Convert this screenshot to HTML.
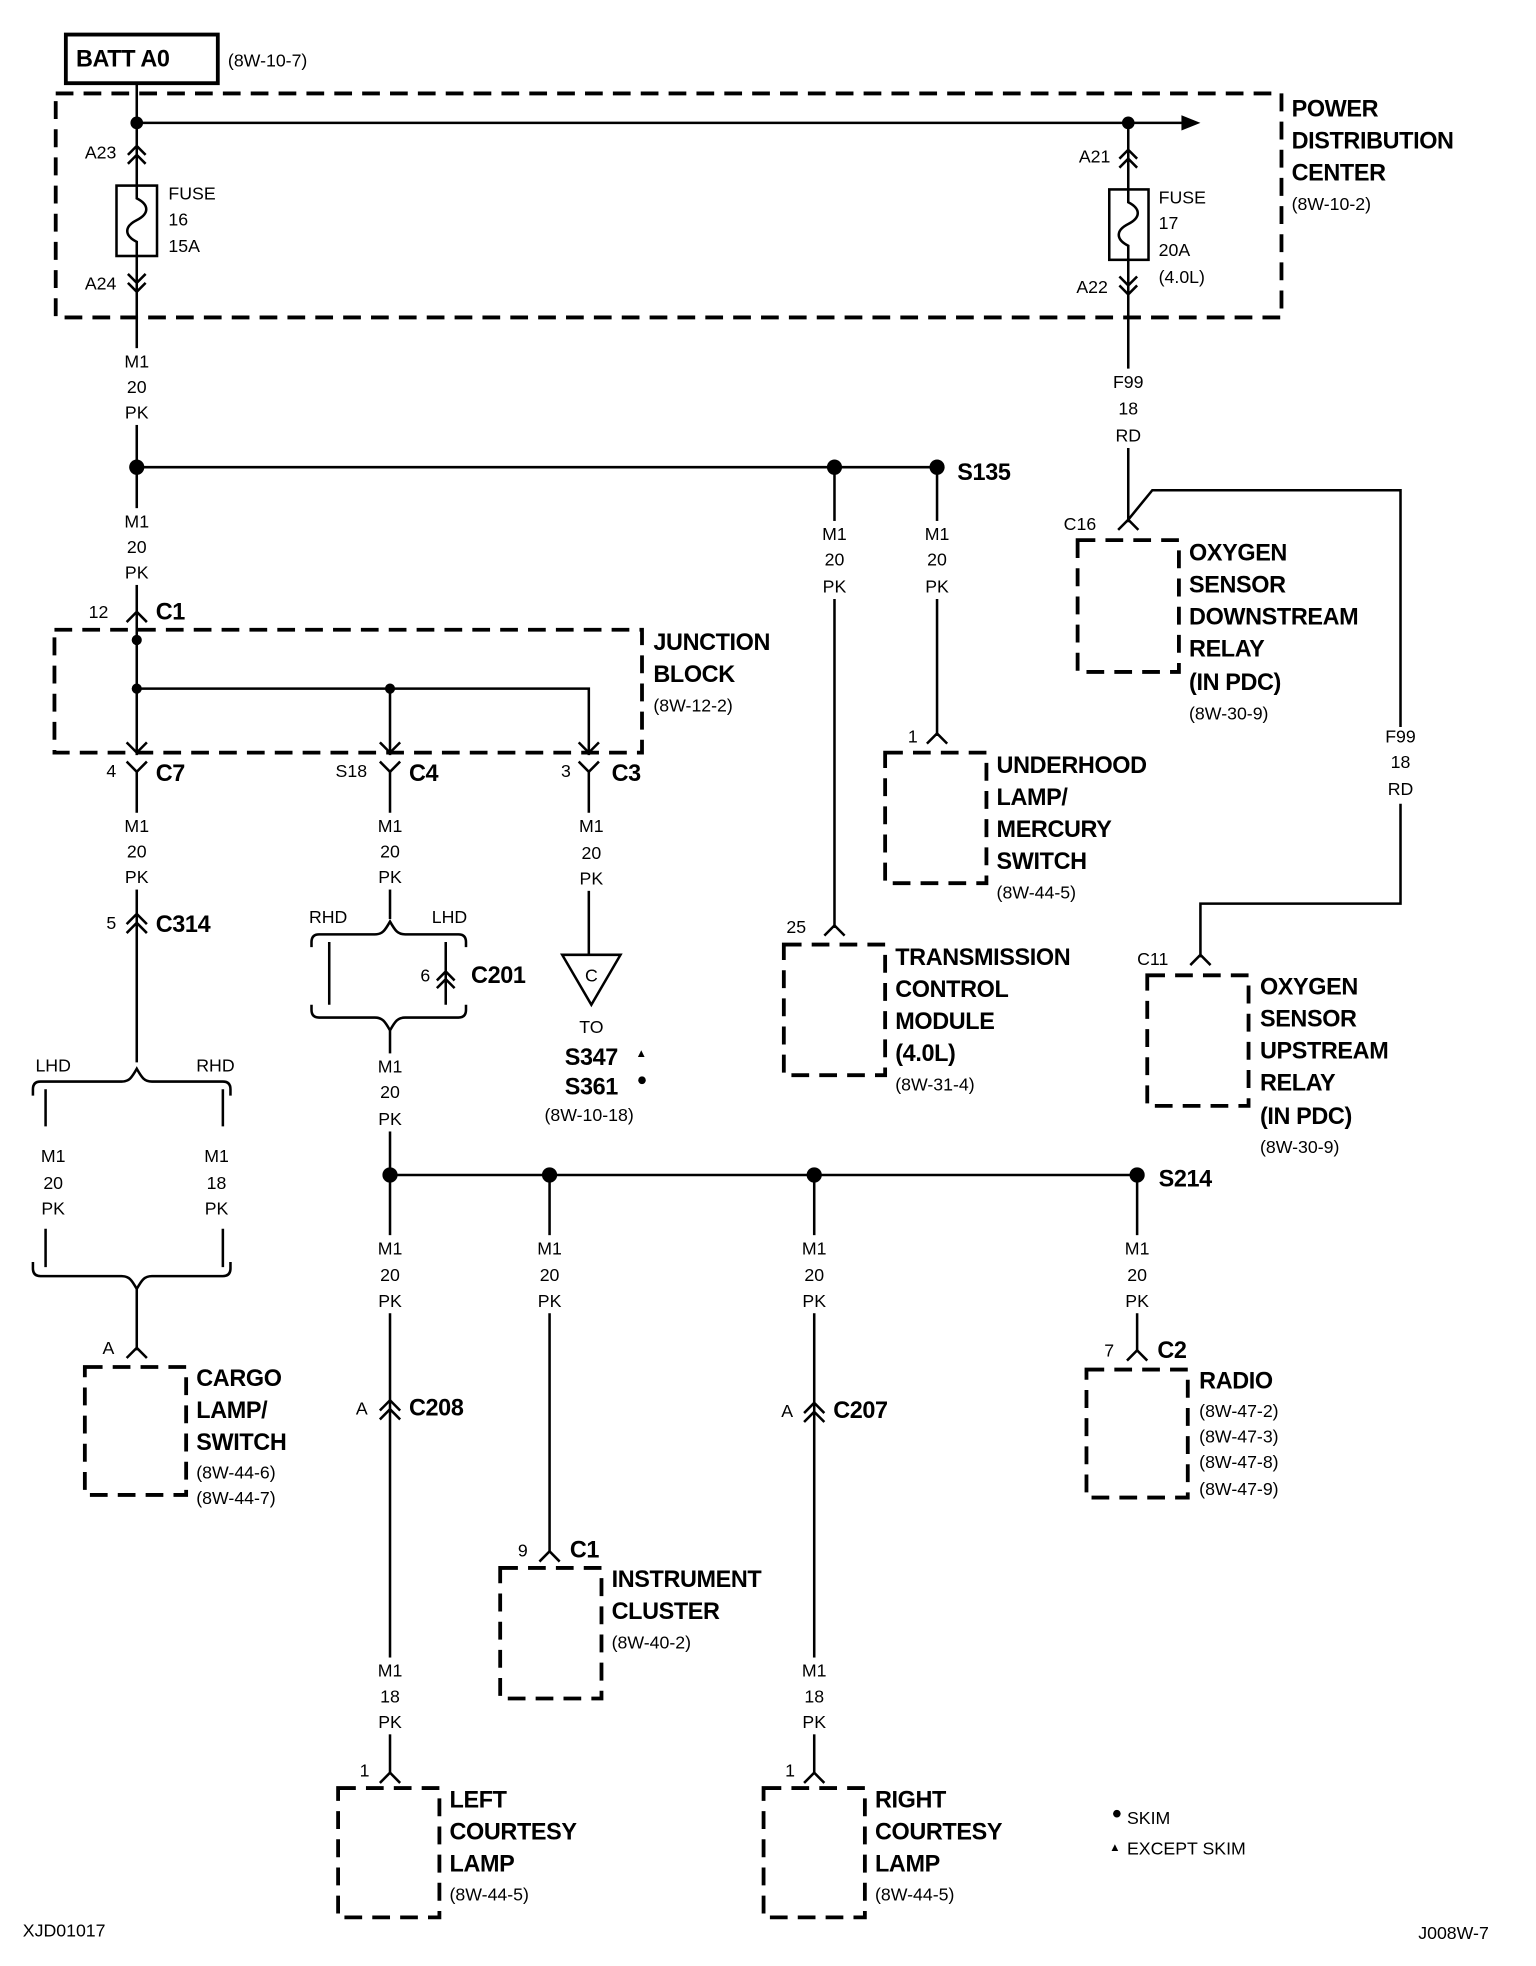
<!DOCTYPE html>
<html><head><meta charset="utf-8"><style>
html,body{margin:0;padding:0;background:#fff}
svg{display:block}
.b{font-family:"Liberation Sans",sans-serif;font-weight:bold;font-size:18.5px;letter-spacing:-0.3px;fill:#000}
.s{font-family:"Liberation Sans",sans-serif;font-size:14px;fill:#000}
.c{text-anchor:middle}
.d{fill:none;stroke:#000;stroke-width:3;stroke-dasharray:14,8}
.l{fill:none;stroke:#000;stroke-width:2}
.w{fill:#fff}
</style></head><body>
<svg width="1536" height="1966" viewBox="0 0 1213 1536" preserveAspectRatio="none" xmlns="http://www.w3.org/2000/svg">
<rect x="52" y="27" width="120" height="38" fill="none" stroke="#000" stroke-width="3"/>
<text class="b" x="60" y="52">BATT A0</text>
<text class="s" x="180" y="52">(8W-10-7)</text>
<rect class="d" x="44" y="73" width="968" height="175"/>
<text class="b" x="1020" y="91">POWER</text>
<text class="b" x="1020" y="116">DISTRIBUTION</text>
<text class="b" x="1020" y="141">CENTER</text>
<text class="s" x="1020" y="164">(8W-10-2)</text>
<path class="l" d="M108 65V478M108 96H935M891 96V408"/>
<polygon points="933,90 948,96 933,102"/>
<circle cx="108" cy="96" r="5"/><circle cx="891" cy="96" r="5"/>
<path class="l" d="M101 121l7-7 7 7M101 128l7-7 7 7M101 214l7 7 7-7M101 221l7 7 7-7"/>
<rect x="92" y="145" width="32" height="55" fill="#fff" stroke="#000" stroke-width="2"/>
<path class="l" d="M108 145v10c10 5 10 12 0 17c-10 5-10 12 0 17v11"/>
<text class="s" x="67" y="124">A23</text><text class="s" x="67" y="226">A24</text>
<text class="s" x="133" y="156">FUSE</text><text class="s" x="133" y="176">16</text><text class="s" x="133" y="197">15A</text>
<path class="l" d="M884 124l7-7 7 7M884 131l7-7 7 7M884 216l7 7 7-7M884 223l7 7 7-7"/>
<rect x="876" y="148" width="31" height="55" fill="#fff" stroke="#000" stroke-width="2"/>
<path class="l" d="M891 148v10c10 5 10 12 0 17c-10 5-10 12 0 17v11"/>
<text class="s" x="852" y="127">A21</text><text class="s" x="850" y="229">A22</text>
<text class="s" x="915" y="159">FUSE</text><text class="s" x="915" y="179">17</text><text class="s" x="915" y="200">20A</text><text class="s" x="915" y="221">(4.0L)</text>
<path class="l" d="M108 365H740M659 365V725M740 365V575"/>
<circle cx="108" cy="365" r="6"/><circle cx="659" cy="365" r="6"/><circle cx="740" cy="365" r="6"/>
<text class="b" x="756" y="375">S135</text>
<path class="l" d="M883 414l8-8 8 8M891 406L910 383H1106V568M1106 628V706H948V748M940 754l8-8 8 8"/>
<text class="s" x="840" y="414">C16</text>
<rect class="d" x="851" y="422" width="80" height="103"/>
<text class="b" x="939" y="438">OXYGEN</text><text class="b" x="939" y="463">SENSOR</text><text class="b" x="939" y="488">DOWNSTREAM</text><text class="b" x="939" y="513">RELAY</text><text class="b" x="939" y="539">(IN PDC)</text>
<text class="s" x="939" y="562">(8W-30-9)</text>
<text class="s" x="898" y="754">C11</text>
<rect class="d" x="906" y="762" width="80" height="102"/>
<text class="b" x="995" y="777">OXYGEN</text><text class="b" x="995" y="802">SENSOR</text><text class="b" x="995" y="827">UPSTREAM</text><text class="b" x="995" y="852">RELAY</text><text class="b" x="995" y="878">(IN PDC)</text>
<text class="s" x="995" y="901">(8W-30-9)</text>
<path class="l" d="M732 581l8-8 8 8"/>
<text class="s" x="717" y="580">1</text>
<rect class="d" x="699" y="588" width="80" height="102"/>
<text class="b" x="787" y="604">UNDERHOOD</text><text class="b" x="787" y="629">LAMP/</text><text class="b" x="787" y="654">MERCURY</text><text class="b" x="787" y="679">SWITCH</text>
<text class="s" x="787" y="702">(8W-44-5)</text>
<path class="l" d="M651 731l8-8 8 8"/>
<text class="s" x="621" y="729">25</text>
<rect class="d" x="619" y="738" width="80" height="102"/>
<text class="b" x="707" y="754">TRANSMISSION</text><text class="b" x="707" y="779">CONTROL</text><text class="b" x="707" y="804">MODULE</text><text class="b" x="707" y="829">(4.0L)</text>
<text class="s" x="707" y="852">(8W-31-4)</text>
<path class="l" d="M100 486l8-8 8 8"/>
<text class="s" x="70" y="483">12</text><text class="b" x="123" y="484">C1</text>
<rect class="d" x="43" y="492" width="464" height="96"/>
<text class="b" x="516" y="508">JUNCTION</text><text class="b" x="516" y="533">BLOCK</text>
<text class="s" x="516" y="556">(8W-12-2)</text>
<path class="l" d="M108 478V590M108 538H465V590M308 538V590"/>
<circle cx="108" cy="500" r="4"/><circle cx="108" cy="538" r="4"/><circle cx="308" cy="538" r="4"/>
<path class="l" d="M100 580l8 8 8-8M100 595l8 8 8-8M300 580l8 8 8-8M300 595l8 8 8-8M457 580l8 8 8-8M457 595l8 8 8-8"/>
<path class="l" d="M108 603V830M308 603V718M465 603V745"/>
<text class="s" x="84" y="607">4</text><text class="b" x="123" y="610">C7</text>
<text class="s" x="265" y="607">S18</text><text class="b" x="323" y="610">C4</text>
<text class="s" x="443" y="607">3</text><text class="b" x="483" y="610">C3</text>
<path class="l" d="M100 722l8-8 8 8M100 729l8-8 8 8"/>
<text class="s" x="84" y="726">5</text><text class="b" x="123" y="728">C314</text>
<text class="s" x="28" y="837">LHD</text><text class="s" x="155" y="837">RHD</text>
<path class="l" d="M26 856v-5c0-4 2-6 6-6h64c6 0 8-3 12-10c4 7 6 10 12 10h56c4 0 6 2 6 6v5M36 851V880M176 851V880M36 960V990M176 960V990"/>
<text class="s c" x="42" y="908">M1</text><text class="s c" x="42" y="929">20</text><text class="s c" x="42" y="949">PK</text>
<text class="s c" x="171" y="908">M1</text><text class="s c" x="171" y="929">18</text><text class="s c" x="171" y="949">PK</text>
<path class="l" d="M26 986v5c0 4 2 6 6 6h64c6 0 8 3 12 10c4-7 6-10 12-10h56c4 0 6-2 6-6v-5M108 1007V1055M100 1061l8-8 8 8"/>
<text class="s" x="81" y="1058">A</text>
<rect class="d" x="67" y="1068" width="80" height="100"/>
<text class="b" x="155" y="1083">CARGO</text><text class="b" x="155" y="1108">LAMP/</text><text class="b" x="155" y="1133">SWITCH</text>
<text class="s" x="155" y="1155">(8W-44-6)</text><text class="s" x="155" y="1175">(8W-44-7)</text>
<text class="s" x="244" y="721">RHD</text><text class="s" x="341" y="721">LHD</text>
<path class="l" d="M246 740v-4c0-4 2-6 6-6h44c6 0 8-3 12-10c4 7 6 10 12 10h42c4 0 6 2 6 6v4M260 736V785M352 736V785M345 766l7-7 7 7M345 772l7-7 7 7"/>
<text class="s" x="332" y="767">6</text><text class="b" x="372" y="768">C201</text>
<path class="l" d="M246 785v4c0 4 2 6 6 6h44c6 0 8 3 12 10c4-7 6-10 12-10h42c4 0 6-2 6-6v-4M308 805V918"/>
<polygon points="444,746 490,746 467,785" fill="#fff" stroke="#000" stroke-width="2"/>
<text class="s c" x="467" y="767">C</text>
<text class="s c" x="467" y="807">TO</text>
<text class="b" x="446" y="832">S347</text><text class="s" x="502" y="826" style="font-size:9px">▲</text>
<text class="b" x="446" y="855">S361</text><circle cx="507" cy="844" r="3"/>
<text class="s" x="430" y="876">(8W-10-18)</text>
<path class="l" d="M308 918H898M308 918V1385M434 918V1212M643 918V1385M898 918V1055"/>
<circle cx="308" cy="918" r="6"/><circle cx="434" cy="918" r="6"/><circle cx="643" cy="918" r="6"/><circle cx="898" cy="918" r="6"/>
<text class="b" x="915" y="927">S214</text>
<rect class="w" x="95" y="272" width="26" height="60"/>
<rect class="w" x="878" y="288" width="26" height="62"/>
<rect class="w" x="95" y="397" width="26" height="60"/>
<rect class="w" x="646" y="407" width="26" height="61"/>
<rect class="w" x="727" y="407" width="26" height="61"/>
<rect class="w" x="95" y="635" width="26" height="60"/>
<rect class="w" x="295" y="635" width="26" height="60"/>
<rect class="w" x="452" y="635" width="26" height="61"/>
<rect class="w" x="295" y="823" width="26" height="61"/>
<rect class="w" x="295" y="965" width="26" height="61"/>
<rect class="w" x="421" y="965" width="26" height="61"/>
<rect class="w" x="630" y="965" width="26" height="61"/>
<rect class="w" x="885" y="965" width="26" height="61"/>
<rect class="w" x="295" y="1295" width="26" height="60"/>
<rect class="w" x="630" y="1295" width="26" height="60"/>
<text class="s c" x="108" y="287">M1</text><text class="s c" x="108" y="307">20</text><text class="s c" x="108" y="327">PK</text>
<text class="s c" x="891" y="303">F99</text><text class="s c" x="891" y="324">18</text><text class="s c" x="891" y="345">RD</text>
<text class="s c" x="108" y="412">M1</text><text class="s c" x="108" y="432">20</text><text class="s c" x="108" y="452">PK</text>
<text class="s c" x="659" y="422">M1</text><text class="s c" x="659" y="442">20</text><text class="s c" x="659" y="463">PK</text>
<text class="s c" x="740" y="422">M1</text><text class="s c" x="740" y="442">20</text><text class="s c" x="740" y="463">PK</text>
<text class="s c" x="1106" y="580">F99</text><text class="s c" x="1106" y="600">18</text><text class="s c" x="1106" y="621">RD</text>
<text class="s c" x="108" y="650">M1</text><text class="s c" x="108" y="670">20</text><text class="s c" x="108" y="690">PK</text>
<text class="s c" x="308" y="650">M1</text><text class="s c" x="308" y="670">20</text><text class="s c" x="308" y="690">PK</text>
<text class="s c" x="467" y="650">M1</text><text class="s c" x="467" y="671">20</text><text class="s c" x="467" y="691">PK</text>
<text class="s c" x="308" y="838">M1</text><text class="s c" x="308" y="858">20</text><text class="s c" x="308" y="879">PK</text>
<text class="s c" x="308" y="980">M1</text><text class="s c" x="308" y="1001">20</text><text class="s c" x="308" y="1021">PK</text>
<text class="s c" x="434" y="980">M1</text><text class="s c" x="434" y="1001">20</text><text class="s c" x="434" y="1021">PK</text>
<text class="s c" x="643" y="980">M1</text><text class="s c" x="643" y="1001">20</text><text class="s c" x="643" y="1021">PK</text>
<text class="s c" x="898" y="980">M1</text><text class="s c" x="898" y="1001">20</text><text class="s c" x="898" y="1021">PK</text>
<text class="s c" x="308" y="1310">M1</text><text class="s c" x="308" y="1330">18</text><text class="s c" x="308" y="1350">PK</text>
<text class="s c" x="643" y="1310">M1</text><text class="s c" x="643" y="1330">18</text><text class="s c" x="643" y="1350">PK</text>
<path class="l" d="M300 1102l8-8 8 8M300 1109l8-8 8 8M635 1104l8-8 8 8M635 1111l8-8 8 8"/>
<text class="s" x="281" y="1105">A</text><text class="b" x="323" y="1106">C208</text>
<text class="s" x="617" y="1107">A</text><text class="b" x="658" y="1108">C207</text>
<path class="l" d="M890 1063l8-8 8 8"/>
<text class="s" x="872" y="1060">7</text><text class="b" x="914" y="1061">C2</text>
<rect class="d" x="858" y="1070" width="80" height="100"/>
<text class="b" x="947" y="1085">RADIO</text>
<text class="s" x="947" y="1107">(8W-47-2)</text><text class="s" x="947" y="1127">(8W-47-3)</text><text class="s" x="947" y="1147">(8W-47-8)</text><text class="s" x="947" y="1168">(8W-47-9)</text>
<path class="l" d="M426 1220l8-8 8 8"/>
<text class="s" x="409" y="1216">9</text><text class="b" x="450" y="1217">C1</text>
<rect class="d" x="395" y="1225" width="80" height="102"/>
<text class="b" x="483" y="1240">INSTRUMENT</text><text class="b" x="483" y="1265">CLUSTER</text>
<text class="s" x="483" y="1288">(8W-40-2)</text>
<path class="l" d="M300 1393l8-8 8 8M635 1393l8-8 8 8"/>
<text class="s" x="284" y="1388">1</text><text class="s" x="620" y="1388">1</text>
<rect class="d" x="267" y="1397" width="80" height="101"/>
<text class="b" x="355" y="1412">LEFT</text><text class="b" x="355" y="1437">COURTESY</text><text class="b" x="355" y="1462">LAMP</text>
<text class="s" x="355" y="1485">(8W-44-5)</text>
<rect class="d" x="603" y="1397" width="80" height="101"/>
<text class="b" x="691" y="1412">RIGHT</text><text class="b" x="691" y="1437">COURTESY</text><text class="b" x="691" y="1462">LAMP</text>
<text class="s" x="691" y="1485">(8W-44-5)</text>
<circle cx="882" cy="1417" r="3"/><text class="s" x="890" y="1425">SKIM</text>
<text class="s" x="876" y="1446" style="font-size:9px">▲</text><text class="s" x="890" y="1449">EXCEPT SKIM</text>
<text class="s" x="18" y="1513">XJD01017</text>
<text class="s" x="1120" y="1515">J008W-7</text>
</svg>
</body></html>
